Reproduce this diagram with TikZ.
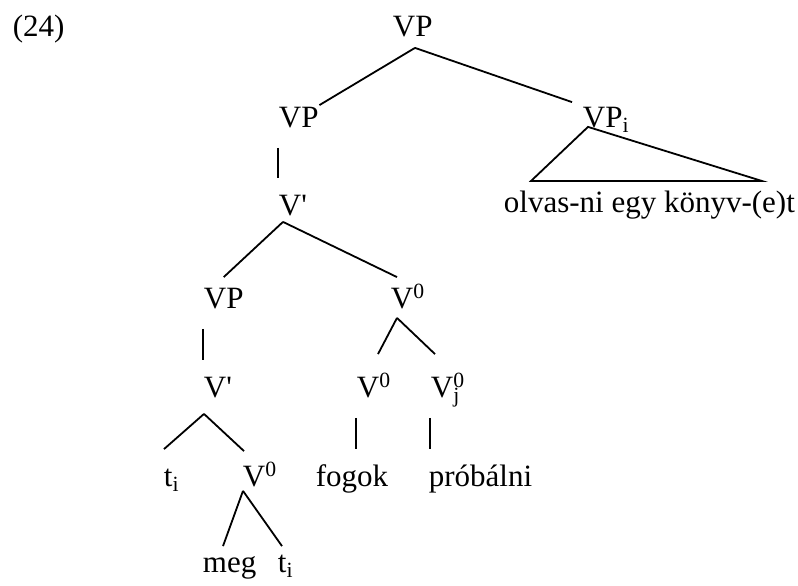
\documentclass[tikz,border=0pt]{standalone}
\usepackage{fontspec}
\setmainfont{Liberation Serif}
\newcommand{\catfont}{\fontsize{31}{36}\selectfont}

\begin{document}
\begin{tikzpicture}[x=1pt, y=-1pt, line width=1.8pt,
    cat/.style={inner sep=0pt, anchor=base west, text height=21pt, text depth=0pt, font=\catfont},
    unary/.style={shorten <=20pt, shorten >=15pt}]
        \useasboundingbox (0,0) rectangle (798,586);
        \node[cat] (ex) at (12,37) {(24)};
        \node[cat] (VPa) at (392,37) {VP};
        \node[cat] (VPb) at (278,127) {VP};
        \node[cat] (VPi) at (582,127) {VP\textsubscript{i}};
        \node[cat] (olv) at (503,212) {olvas-ni egy könyv-(e)t};
        \node[cat] (Vba) at (278,215) {V\textquotesingle};
        \node[cat] (VPc) at (203,308) {VP};
        \node[cat] (V0a) at (390,308) {V\textsuperscript{0}};
        \node[cat] (Vbb) at (203,397) {V\textquotesingle};
        \node[cat] (V0b) at (356,397) {V\textsuperscript{0}};
        \node[cat] (V0j) at (430,397) {V\rlap{\textsuperscript{0}}\textsubscript{j}};
        \node[cat] (ti) at (163,486) {t\textsubscript{i}};
        \node[cat] (V0c) at (242,486) {V\textsuperscript{0}};
        \node[cat] (fogok) at (315,486) {fogok};
        \node[cat] (prob) at (428,486) {próbálni};
        \node[cat] (meg) at (202,572) {meg};
        \node[cat] (tj) at (277,572) {t\textsubscript{i}};
        \coordinate (tl) at (531,181);
        \coordinate (tr) at (762,181);
        \draw ([xshift=23pt,yshift=-10pt]VPa.south west) -- (VPb.north east);
        \draw ([xshift=23pt,yshift=-10pt]VPa.south west) -- ([xshift=-10pt,yshift=3pt]VPi.north west);
        \draw ([xshift=6pt,yshift=1pt]VPi.south west) -- (tl) -- (tr) -- cycle;
        \draw[unary] (VPb.south west) -- (VPb.south west |- Vba.north);
        \draw ([xshift=5pt,yshift=-6pt]Vba.south west) -- ([yshift=9pt]VPc.north);
        \draw ([xshift=5pt,yshift=-6pt]Vba.south west) -- ([xshift=7pt,yshift=9pt]V0a.north west);
        \draw[unary] (VPc.south west) -- (VPc.south west |- Vbb.north);
        \draw ([xshift=7pt,yshift=-9pt]V0a.south west) -- ([xshift=22pt,yshift=21pt]V0b.north west);
        \draw ([xshift=7pt,yshift=-9pt]V0a.south west) -- ([xshift=5pt,yshift=21pt]V0j.north west);
        \draw[unary] (V0b.south west) -- (V0b.south west |- fogok.north);
        \draw[unary] (V0j.south west) -- (V0j.south west |- prob.north);
        \draw ([xshift=1pt,yshift=-16pt]Vbb.south west) -- ([xshift=1pt,yshift=15pt]ti.north west);
        \draw ([xshift=1pt,yshift=-16pt]Vbb.south west) -- ([xshift=2pt,yshift=13pt]V0c.north west);
        \draw ([xshift=1pt,yshift=-4pt]V0c.south west) -- ([xshift=21pt,yshift=4pt]meg.north west);
        \draw ([xshift=1pt,yshift=-4pt]V0c.south west) -- ([xshift=5pt,yshift=4pt]tj.north west);
      \end{tikzpicture}
\end{document}
